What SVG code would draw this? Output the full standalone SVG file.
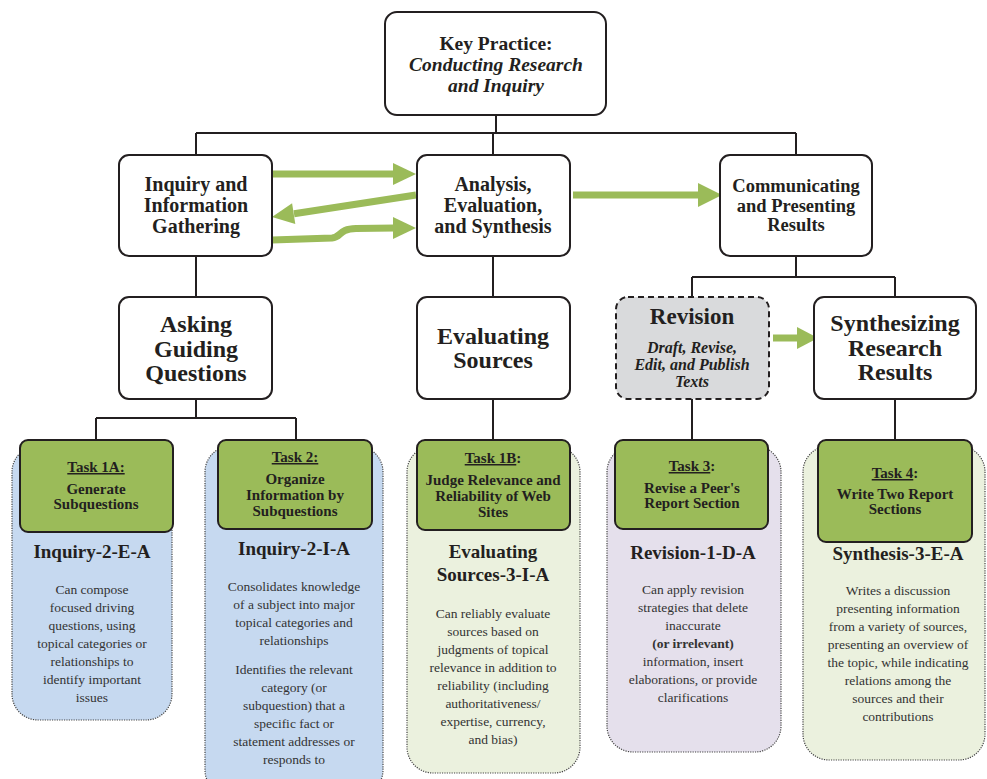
<svg xmlns="http://www.w3.org/2000/svg" width="987" height="779" viewBox="0 0 987 779" font-family="Liberation Serif, Times New Roman, serif">
<style>
text{text-anchor:middle;fill:#231f20}
.box{fill:#fff;stroke:#231f20;stroke-width:2}
.task{fill:#9bbb59;stroke:#231f20;stroke-width:2}
.panel{stroke:#444;stroke-width:1.2;stroke-dasharray:1.2 1.2}
.b{font-weight:bold}
.mid{font-size:20px;font-weight:bold}
.big{font-size:24px;font-weight:bold}
.tk{font-size:15px;font-weight:bold}
.code{font-size:19px;font-weight:bold}
.body{font-size:13.5px;fill:#333}
.u{text-decoration:underline}
.conn{stroke:#231f20;stroke-width:2;fill:none}
.arr{stroke:#9bbb59;stroke-width:7;fill:none}
.head{fill:#9bbb59}
</style>

<g id="connectors">
<path class="conn" d="M496,115V133M196,133H796M196,133V155M493,133V155M796,133V155"/>
<path class="conn" d="M196,256V297M493,256V297M796,256V277M692,277H895M692,277V297M895,277V297"/>
<path class="conn" d="M196,399V418M96,418H296M96,418V440M296,418V440M493,399V440M692,399V440M895,399V440"/>
<path class="arr" d="M272,174H395"/>
<polygon class="head" points="393,163 416,174 393,185"/>
<path class="arr" d="M416,195L294,213.7"/>
<polygon class="head" points="295.3,224.1 272,217 292.1,203.3"/>
<path class="arr" d="M272,240L332,238C342,237 338,229 356,228.5L395,228"/>
<polygon class="head" points="393,217 416,228 393,239"/>
<path class="arr" d="M573,195H700"/>
<polygon class="head" points="698,183 722,195 698,207"/>
<path class="arr" d="M773,338H799"/>
<polygon class="head" points="797,327 818,338 797,349"/>
</g>

<g id="key-practice">
<rect class="box" x="385" y="12" width="221" height="103" rx="12"/>
<text class="b" x="496" y="50" font-size="19.5">Key Practice:</text>
<text class="b" x="496" y="71" font-size="19.5" font-style="italic">Conducting Research</text>
<text class="b" x="496" y="92" font-size="19.5" font-style="italic">and Inquiry</text>
</g>

<g id="inquiry-gathering">
<rect class="box" x="119" y="155" width="153" height="101" rx="10"/>
<text class="mid" x="196" y="191">Inquiry and</text>
<text class="mid" x="196" y="212">Information</text>
<text class="mid" x="196" y="233">Gathering</text>
</g>

<g id="analysis">
<rect class="box" x="417" y="155" width="153" height="101" rx="10"/>
<text class="mid" x="493" y="191">Analysis,</text>
<text class="mid" x="493" y="212">Evaluation,</text>
<text class="mid" x="493" y="233">and Synthesis</text>
</g>

<g id="communicating">
<rect class="box" x="720" y="155" width="152" height="101" rx="10"/>
<text class="b" x="796" y="192" font-size="18.5">Communicating</text>
<text class="b" x="796" y="212" font-size="18.5">and Presenting</text>
<text class="b" x="796" y="231" font-size="18.5">Results</text>
</g>

<g id="asking">
<rect class="box" x="119" y="297" width="153" height="102" rx="10"/>
<text class="big" x="196" y="332">Asking</text>
<text class="big" x="196" y="357">Guiding</text>
<text class="big" x="196" y="381">Questions</text>
</g>

<g id="evaluating">
<rect class="box" x="417" y="297" width="153" height="102" rx="10"/>
<text class="big" x="493" y="344">Evaluating</text>
<text class="big" x="493" y="368">Sources</text>
</g>

<g id="revision">
<rect x="616" y="297" width="153" height="102" rx="12" fill="#d9dadc" stroke="#231f20" stroke-width="2" stroke-dasharray="6 4"/>
<text class="b" x="692" y="324" font-size="23">Revision</text>
<text class="b" x="692" y="353" font-size="16" font-style="italic">Draft, Revise,</text>
<text class="b" x="692" y="370" font-size="16" font-style="italic">Edit, and Publish</text>
<text class="b" x="692" y="387" font-size="16" font-style="italic">Texts</text>
</g>

<g id="synthesizing">
<rect class="box" x="814" y="297" width="162" height="102" rx="10"/>
<text class="big" x="895" y="331">Synthesizing</text>
<text class="big" x="895" y="356">Research</text>
<text class="big" x="895" y="380">Results</text>
</g>

<g id="panel-1a">
<rect class="panel" x="12" y="446" width="160" height="274" rx="26" fill="#c6d9f0"/>
<rect class="task" x="20" y="440" width="153" height="92" rx="8"/>
<text class="tk" x="96" y="472"><tspan class="u">Task 1A:</tspan></text>
<text class="tk" x="96" y="494">Generate</text>
<text class="tk" x="96" y="509">Subquestions</text>
<text class="code" x="92" y="558">Inquiry-2-E-A</text>
<text class="body" x="92" y="594">Can compose</text>
<text class="body" x="92" y="612">focused driving</text>
<text class="body" x="92" y="630">questions, using</text>
<text class="body" x="92" y="648">topical categories or</text>
<text class="body" x="92" y="666">relationships to</text>
<text class="body" x="92" y="684">identify important</text>
<text class="body" x="92" y="702">issues</text>
</g>

<g id="panel-2">
<rect class="panel" x="205" y="446" width="178" height="350" rx="26" fill="#c6d9f0"/>
<rect class="task" x="218" y="440" width="154" height="89" rx="8"/>
<text class="tk" x="295" y="462"><tspan class="u">Task 2:</tspan></text>
<text class="tk" x="295" y="484">Organize</text>
<text class="tk" x="295" y="500">Information by</text>
<text class="tk" x="295" y="516">Subquestions</text>
<text class="code" x="294" y="555">Inquiry-2-I-A</text>
<text class="body" x="294" y="591">Consolidates knowledge</text>
<text class="body" x="294" y="609">of a subject into major</text>
<text class="body" x="294" y="627">topical categories and</text>
<text class="body" x="294" y="645">relationships</text>
<text class="body" x="294" y="674">Identifies the relevant</text>
<text class="body" x="294" y="692">category (or</text>
<text class="body" x="294" y="710">subquestion) that a</text>
<text class="body" x="294" y="728">specific fact or</text>
<text class="body" x="294" y="746">statement addresses or</text>
<text class="body" x="294" y="764">responds to</text>
</g>

<g id="panel-1b">
<rect class="panel" x="407" y="446" width="173" height="327" rx="26" fill="#ebf1de"/>
<rect class="task" x="417" y="440" width="153" height="90" rx="8"/>
<text class="tk" x="493" y="463"><tspan class="u">Task 1B</tspan>:</text>
<text class="tk" x="493" y="485">Judge Relevance and</text>
<text class="tk" x="493" y="501">Reliability of Web</text>
<text class="tk" x="493" y="517">Sites</text>
<text class="code" x="493" y="558">Evaluating</text>
<text class="code" x="493" y="581">Sources-3-I-A</text>
<text class="body" x="493" y="618">Can reliably evaluate</text>
<text class="body" x="493" y="636">sources based on</text>
<text class="body" x="493" y="654">judgments of topical</text>
<text class="body" x="493" y="672">relevance in addition to</text>
<text class="body" x="493" y="690">reliability (including</text>
<text class="body" x="493" y="708">authoritativeness/</text>
<text class="body" x="493" y="726">expertise, currency,</text>
<text class="body" x="493" y="744">and bias)</text>
</g>

<g id="panel-3">
<rect class="panel" x="607" y="446" width="174" height="306" rx="26" fill="#e5e0ec"/>
<rect class="task" x="615" y="440" width="153" height="89" rx="8"/>
<text class="tk" x="692" y="471"><tspan class="u">Task 3</tspan>:</text>
<text class="tk" x="692" y="493">Revise a Peer's</text>
<text class="tk" x="692" y="508">Report Section</text>
<text class="code" x="693" y="559">Revision-1-D-A</text>
<text class="body" x="693" y="594">Can apply revision</text>
<text class="body" x="693" y="612">strategies that delete</text>
<text class="body" x="693" y="630">inaccurate</text>
<text class="body b" x="693" y="648">(or irrelevant)</text>
<text class="body" x="693" y="666">information, insert</text>
<text class="body" x="693" y="684">elaborations, or provide</text>
<text class="body" x="693" y="702">clarifications</text>
</g>

<g id="panel-4">
<rect class="panel" x="803" y="446" width="182" height="314" rx="26" fill="#ebf1de"/>
<rect class="task" x="818" y="440" width="154" height="102" rx="8"/>
<text class="tk" x="895" y="478"><tspan class="u">Task 4</tspan>:</text>
<text class="tk" x="895" y="499">Write Two Report</text>
<text class="tk" x="895" y="514">Sections</text>
<text class="code" x="898" y="560">Synthesis-3-E-A</text>
<text class="body" x="898" y="595">Writes a discussion</text>
<text class="body" x="898" y="613">presenting information</text>
<text class="body" x="898" y="631">from a variety of sources,</text>
<text class="body" x="898" y="649">presenting an overview of</text>
<text class="body" x="898" y="667">the topic, while indicating</text>
<text class="body" x="898" y="685">relations among the</text>
<text class="body" x="898" y="703">sources and their</text>
<text class="body" x="898" y="721">contributions</text>
</g>
</svg>
